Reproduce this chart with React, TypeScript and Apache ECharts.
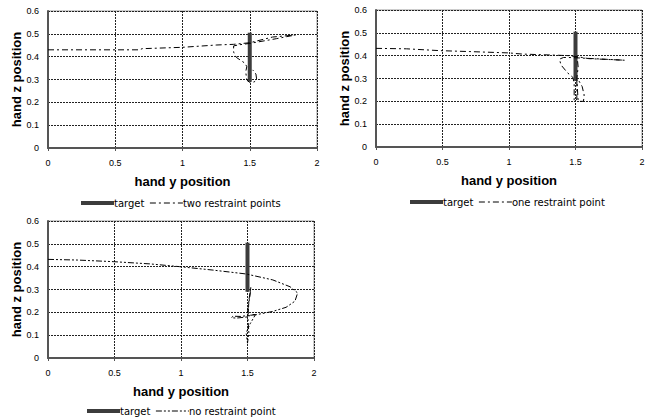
import React, { useEffect, useRef } from "react";
import * as echarts from "echarts";

const xTicks = [0, 0.5, 1, 1.5, 2];
const yTicks = [0, 0.1, 0.2, 0.3, 0.4, 0.5, 0.6];

const targetX = [1.5, 1.5];
const targetY = [0.29, 0.505];

const traj1Name = "two restraint points";
const traj1X = [0, 0.35, 0.68, 0.7, 1.0, 1.25, 1.38, 1.5, 1.67, 1.84, 1.7, 1.5, 1.42, 1.38, 1.38, 1.4, 1.465, 1.478, 1.47, 1.478, 1.497, 1.532, 1.552, 1.546, 1.522];
const traj1Y = [0.43, 0.43, 0.43, 0.435, 0.441, 0.451, 0.454, 0.461, 0.486, 0.495, 0.479, 0.458, 0.452, 0.447, 0.42, 0.397, 0.371, 0.356, 0.334, 0.298, 0.288, 0.289, 0.298, 0.324, 0.342];

const traj2Name = "one restraint point";
const traj2X = [0, 0.23, 0.48, 0.7, 1.0, 1.1, 1.36, 1.45, 1.52, 1.6, 1.87, 1.6, 1.45, 1.41, 1.38, 1.39, 1.44, 1.48, 1.49, 1.49, 1.5, 1.51, 1.51, 1.52, 1.55, 1.565, 1.56, 1.52, 1.51, 1.52, 1.51];
const traj2Y = [0.432, 0.43, 0.422, 0.418, 0.412, 0.407, 0.402, 0.4, 0.395, 0.387, 0.38, 0.388, 0.392, 0.392, 0.385, 0.36, 0.325, 0.305, 0.28, 0.205, 0.2, 0.21, 0.29, 0.295, 0.265, 0.228, 0.2, 0.2, 0.3, 0.35, 0.41];

const traj3Name = "no restraint point";
const traj3X = [0, 0.22, 0.49, 0.77, 0.99, 1.24, 1.49, 1.69, 1.82, 1.877, 1.857, 1.79, 1.69, 1.57, 1.5, 1.45, 1.39, 1.38, 1.42, 1.5, 1.53, 1.56, 1.52, 1.49, 1.5, 1.51, 1.5, 1.52, 1.525, 1.51, 1.505];
const traj3Y = [0.432, 0.429, 0.422, 0.412, 0.4, 0.385, 0.368, 0.342, 0.312, 0.285, 0.249, 0.222, 0.204, 0.19, 0.186, 0.182, 0.183, 0.176, 0.175, 0.18, 0.19, 0.19, 0.15, 0.11, 0.065, 0.11, 0.2, 0.28, 0.31, 0.25, 0.19];

const pairs = (xs: number[], ys: number[]) => xs.map((x, i) => [x, ys[i]]);

const panels = [
  { name: traj1Name, xs: traj1X, ys: traj1Y, dash: [6, 3, 2, 3], grid: { left: 48, top: 11, width: 269, height: 137 }, legend: { left: 79, top: 198 } },
  { name: traj2Name, xs: traj2X, ys: traj2Y, dash: [6, 3, 2, 3], grid: { left: 376, top: 10, width: 266, height: 137 }, legend: { left: 408, top: 197 } },
  { name: traj3Name, xs: traj3X, ys: traj3Y, dash: [6, 2, 2, 2, 2, 2], grid: { left: 48, top: 221, width: 266, height: 137 }, legend: { left: 85, top: 406 } },
];

const FONT = "'Liberation Sans', Arial, sans-serif";

export default function App() {
  const ref = useRef<HTMLDivElement>(null);
  useEffect(() => {
    document.body.style.margin = "0";
    const chart = echarts.init(ref.current!, null, { renderer: "svg" });
    const grid: any[] = [];
    const xAxis: any[] = [];
    const yAxis: any[] = [];
    const series: any[] = [];
    const legend: any[] = [];
    panels.forEach((p, i) => {
      grid.push({ ...p.grid, show: true, borderColor: "#9a9a9a", borderWidth: 1, backgroundColor: "#fff" });
      xAxis.push({
        type: "value", gridIndex: i, min: 0, max: 2, interval: 0.5,
        name: "hand y position", nameLocation: "middle", nameGap: 27,
        nameTextStyle: { fontFamily: FONT, fontWeight: "bold", fontSize: 13, color: "#000" },
        axisLine: { show: true, lineStyle: { color: "#555", width: 2 } },
        axisTick: { show: true, length: 3, lineStyle: { color: "#555" } },
        axisLabel: { fontFamily: FONT, fontSize: 9, color: "#000", margin: 10 },
        splitLine: { show: true, lineStyle: { color: "#222", type: [2, 1], width: 1 } },
      });
      yAxis.push({
        type: "value", gridIndex: i, min: 0, max: 0.6, interval: 0.1,
        name: "hand z position", nameLocation: "middle", nameGap: 24, nameRotate: 90,
        nameTextStyle: { fontFamily: FONT, fontWeight: "bold", fontSize: 13, color: "#000" },
        axisLine: { show: true, lineStyle: { color: "#555", width: 2 } },
        axisTick: { show: false },
        axisLabel: { fontFamily: FONT, fontSize: 9, color: "#000", margin: 9 },
        splitLine: { show: true, lineStyle: { color: "#222", type: [2, 1], width: 1 } },
      });
      series.push({
        type: "line", name: "target", xAxisIndex: i, yAxisIndex: i,
        data: pairs(targetX, targetY), symbol: "none",
        lineStyle: { color: "#3c3c3c", width: 4 }, itemStyle: { color: "#3c3c3c" }, z: 2,
      });
      series.push({
        type: "line", name: p.name, xAxisIndex: i, yAxisIndex: i,
        data: pairs(p.xs, p.ys), symbol: "none",
        lineStyle: { color: "#000", width: 1, type: p.dash }, itemStyle: { color: "#000" }, z: 3,
      });
      legend.push({
        ...p.legend, orient: "horizontal", itemWidth: 33, itemHeight: 10, itemGap: 5, padding: 0,
        textStyle: { fontFamily: "'DejaVu Sans', sans-serif", fontSize: 10, color: "#000", padding: [0, 0, 0, -5] },
        itemStyle: { opacity: 0, color: "transparent", borderWidth: 0 },
        selectedMode: false,
        data: [
          { name: "target", lineStyle: { width: 4 } },
          { name: p.name, lineStyle: { width: 1, type: p.dash } },
        ],
      });
    });
    chart.setOption({
      animation: false,
      backgroundColor: "#fff",
      grid, xAxis, yAxis, series, legend,
    });
    return () => chart.dispose();
  }, []);
  return <div ref={ref} style={{ width: 659, height: 417 }} />;
}
